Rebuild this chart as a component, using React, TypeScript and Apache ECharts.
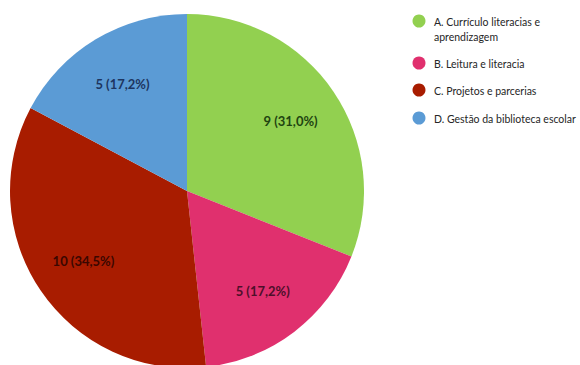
import React, { useEffect, useRef } from "react";
import * as echarts from "echarts";

const categories = [
  "A. Currículo literacias e\naprendizagem",
  "B. Leitura e literacia",
  "C. Projetos e parcerias",
  "D. Gestão da biblioteca escolar",
];
const values = [9, 5, 10, 5];
const percents = ["31,0%", "17,2%", "34,5%", "17,2%"];
const colors = ["#92d050", "#e0306e", "#a81c00", "#5b9bd5"];
const labelColors = ["#1f4410", "#4d0f2a", "#3a0700", "#1d3560"];
const legendY = [21, 63, 90, 118];

export default function App() {
  const ref = useRef<HTMLDivElement>(null);
  useEffect(() => {
    if (!ref.current) return;
    const chart = echarts.init(ref.current, undefined, { renderer: "svg" });
    const R = 177;
    const data = categories.map((name, i) => ({
      name,
      value: values[i],
      itemStyle: { color: colors[i] },
    }));
    const labelData = categories.map((name, i) => ({
      name,
      value: values[i],
      itemStyle: { color: "rgba(0,0,0,0)" },
      label: {
        show: true,
        position: "inside",
        formatter: `${values[i]} (${percents[i]})`,
        color: labelColors[i],
        fontFamily: "Lato",
        fontWeight: "bold",
        fontSize: 13,
      },
    }));
    const graphic: any[] = [];
    categories.forEach((name, i) => {
      graphic.push({
        type: "circle",
        shape: { cx: 419, cy: legendY[i], r: 6.5 },
        style: { fill: colors[i] },
      });
      graphic.push({
        type: "text",
        x: 434,
        y: legendY[i] - 7,
        style: {
          text: name,
          fill: "#262626",
          font: "10.5px Lato",
          lineHeight: 15,
          verticalAlign: "top",
        },
      });
    });
    chart.setOption({
      animation: false,
      backgroundColor: "#ffffff",
      graphic,
      series: [
        {
          type: "pie",
          center: [187, 191],
          radius: [0, R],
          startAngle: 90,
          clockwise: true,
          label: { show: false },
          labelLine: { show: false },
          silent: true,
          data,
        },
        {
          type: "pie",
          center: [187, 191],
          radius: [0, R * 1.38],
          startAngle: 90,
          clockwise: true,
          labelLine: { show: false },
          silent: true,
          data: labelData,
        },
      ],
    });
    return () => chart.dispose();
  }, []);
  return (
    <div
      ref={ref}
      style={{ position: "fixed", left: 0, top: 0, width: 580, height: 365 }}
    />
  );
}
